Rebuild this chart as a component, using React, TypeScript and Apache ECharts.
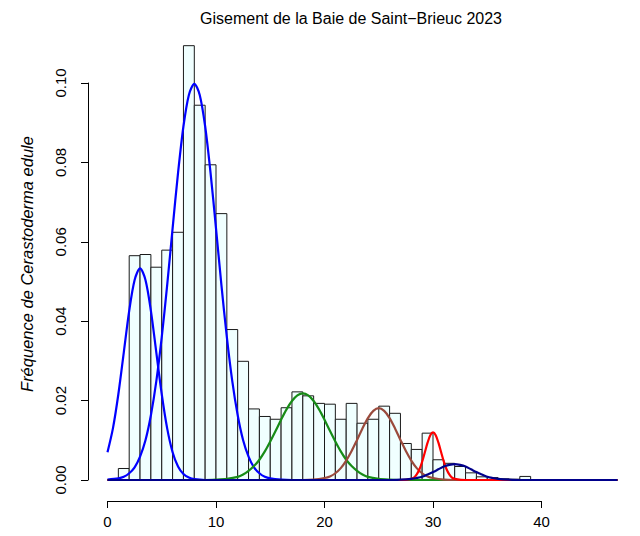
import React, { useEffect, useRef } from "react";
import * as echarts from "echarts";

// Histogram bins (width 1): left edges and densities
const binStarts = [1, 2, 3, 4, 5, 6, 7, 8, 9, 10, 11, 12, 13, 14, 15, 16, 17, 18, 19, 20, 21, 22, 23, 24, 25, 26, 27, 28, 29, 30, 31, 32, 33, 34, 35, 36, 37, 38];
const binHeights = [0.0029, 0.0565, 0.0568, 0.0536, 0.0579, 0.0624, 0.1094, 0.0944, 0.0794, 0.0671, 0.0379, 0.0299, 0.0179, 0.0160, 0.0153, 0.0182, 0.0222, 0.0212, 0.0193, 0.0191, 0.0153, 0.0193, 0.0143, 0.0153, 0.0186, 0.0168, 0.0092, 0.0077, 0.0118, 0.0051, 0.0042, 0.0034, 0.0018, 0.0008, 0.0006, 0.0003, 0.0002, 0.0009];

// Component curves: [x, density]
const curve1: number[][] = [[0, 0.0070], [0.5, 0.0130], [1, 0.0216], [1.5, 0.0321], [2, 0.0426], [2.5, 0.0504], [3, 0.0533], [3.5, 0.0504], [4, 0.0426], [4.5, 0.0321], [5, 0.0216], [5.5, 0.0130], [6, 0.0070], [6.5, 0.0034], [7, 0.0015], [7.5, 0.0006], [8, 0.0002], [9, 0], [47, 0]];
const curve2: number[][] = [[0, 0.0001], [1, 0.0004], [1.5, 0.0008], [2, 0.0017], [2.5, 0.0032], [3, 0.0059], [3.5, 0.0100], [4, 0.0163], [4.5, 0.0249], [5, 0.0360], [5.5, 0.0491], [6, 0.0634], [6.5, 0.0773], [7, 0.0891], [7.5, 0.0970], [8, 0.0998], [8.5, 0.0970], [9, 0.0891], [9.5, 0.0773], [10, 0.0634], [10.5, 0.0491], [11, 0.0360], [11.5, 0.0249], [12, 0.0163], [12.5, 0.0100], [13, 0.0059], [13.5, 0.0032], [14, 0.0017], [14.5, 0.0008], [15, 0.0004], [16, 0.0001], [17, 0], [47, 0]];
const curve3: number[][] = [[0, 0], [9, 0], [10, 0.0001], [11, 0.0003], [12, 0.0008], [12.5, 0.0014], [13, 0.0023], [13.5, 0.0035], [14, 0.0051], [14.5, 0.0072], [15, 0.0097], [15.5, 0.0124], [16, 0.0152], [16.5, 0.0178], [17, 0.0199], [17.5, 0.0213], [18, 0.0218], [18.5, 0.0213], [19, 0.0199], [19.5, 0.0178], [20, 0.0152], [20.5, 0.0124], [21, 0.0097], [21.5, 0.0072], [22, 0.0051], [22.5, 0.0035], [23, 0.0023], [23.5, 0.0014], [24, 0.0008], [25, 0.0003], [26, 0.0001], [27, 0], [47, 0]];
const curve4: number[][] = [[0, 0], [18, 0], [19, 0.0001], [20, 0.0005], [20.5, 0.0009], [21, 0.0017], [21.5, 0.0030], [22, 0.0049], [22.5, 0.0073], [23, 0.0101], [23.5, 0.0130], [24, 0.0156], [24.5, 0.0174], [25, 0.0181], [25.5, 0.0174], [26, 0.0156], [26.5, 0.0130], [27, 0.0101], [27.5, 0.0073], [28, 0.0049], [28.5, 0.0030], [29, 0.0017], [29.5, 0.0009], [30, 0.0005], [31, 0.0001], [32, 0], [47, 0]];
const curve5: number[][] = [[0, 0], [27, 0], [28, 0.0003], [28.25, 0.0006], [28.5, 0.0014], [28.75, 0.0027], [29, 0.0046], [29.25, 0.0070], [29.5, 0.0094], [29.75, 0.0113], [30, 0.0120], [30.25, 0.0113], [30.5, 0.0094], [30.75, 0.0070], [31, 0.0046], [31.25, 0.0027], [31.5, 0.0014], [31.75, 0.0006], [32, 0.0003], [33, 0], [47, 0]];
const curve6: number[][] = [[0, 0], [26, 0], [27, 0.0001], [28, 0.0003], [28.5, 0.0005], [29, 0.0008], [29.5, 0.0014], [30, 0.0020], [30.5, 0.0027], [31, 0.0034], [31.5, 0.0038], [32, 0.0040], [32.5, 0.0038], [33, 0.0034], [33.5, 0.0027], [34, 0.0020], [34.5, 0.0014], [35, 0.0008], [35.5, 0.0005], [36, 0.0003], [37, 0.0001], [38, 0], [47, 0]];

const curveColors = ["#0000FF", "#0000FF", "#178C17", "#9A4A3C", "#FF0000", "#00008B"];
const curves = [curve1, curve2, curve3, curve4, curve5, curve6];

const xTickMin = 0;
const xTickMax = 40;
const xTickStep = 10;
const yTickMin = 0;
const yTickMax = 0.1;
const yTickStep = 0.02;

const titleText = "Gisement de la Baie de Saint\u2212Brieuc 2023";
const yLabelText = "Fr\u00e9quence de Cerastoderma edule";

const FONT = "'Liberation Sans', Arial, Helvetica, sans-serif";

export default function App() {
  const ref = useRef<HTMLDivElement>(null);
  useEffect(() => {
    document.body.style.margin = "0";
    const chart = echarts.init(ref.current!, null, { renderer: "svg" });
    const histData = binStarts.map((s, i) => [s, s + 1, binHeights[i]]);
    const pxPerUnit = 10.85;
    const x0 = 107.5;
    const y0 = 480;
    const pxPerY = 3970;
    const option: any = {
      animation: false,
      backgroundColor: "#fff",
      grid: [
        { left: x0, top: y0 - 0.11 * pxPerY, width: 47 * pxPerUnit, height: 0.11 * pxPerY },
        { left: x0, top: 500, width: 40 * pxPerUnit, height: 1 },
        { left: 88, top: y0 - 0.1 * pxPerY, width: 1, height: 0.1 * pxPerY },
      ],
      xAxis: [
        { gridIndex: 0, type: "value", min: 0, max: 47, show: false },
        {
          gridIndex: 1, type: "value", min: xTickMin, max: xTickMax, interval: xTickStep, position: "bottom",
          axisLine: { show: true, lineStyle: { color: "#000", width: 1 } },
          axisTick: { show: true, length: 7, lineStyle: { color: "#000", width: 1 } },
          axisLabel: { fontSize: 15, color: "#000", margin: 13, fontFamily: FONT },
          splitLine: { show: false },
        },
        { gridIndex: 2, type: "value", min: 0, max: 1, show: false },
      ],
      yAxis: [
        { gridIndex: 0, type: "value", min: 0, max: 0.11, show: false },
        { gridIndex: 1, type: "value", min: 0, max: 1, show: false },
        {
          gridIndex: 2, type: "value", min: yTickMin, max: yTickMax, interval: yTickStep, position: "left",
          axisLine: { show: true, lineStyle: { color: "#000", width: 1 } },
          axisTick: { show: true, length: 7, lineStyle: { color: "#000", width: 1 } },
          axisLabel: {
            fontSize: 15, color: "#000", margin: 20, rotate: 90, fontFamily: FONT,
            showMinLabel: true, showMaxLabel: true,
            formatter: (v: number) => v.toFixed(2),
          },
          splitLine: { show: false },
        },
      ],
      graphic: [
        {
          type: "text", x: 351, y: 18,
          style: { text: titleText, fill: "#000", fontSize: 16, fontFamily: FONT, textAlign: "center", textVerticalAlign: "middle", align: "center", verticalAlign: "middle" },
        },
        {
          type: "text", x: 27, y: 264, rotation: Math.PI / 2,
          style: { text: yLabelText, fill: "#000", fontSize: 16.5, fontStyle: "italic", fontFamily: FONT, textAlign: "center", textVerticalAlign: "middle", align: "center", verticalAlign: "middle" },
        },
      ],
      series: [
        {
          type: "custom",
          xAxisIndex: 0, yAxisIndex: 0,
          data: histData,
          renderItem: (params: any, api: any) => {
            const a = api.coord([api.value(0), api.value(2)]);
            const b = api.coord([api.value(1), 0]);
            return {
              type: "rect",
              shape: { x: a[0], y: a[1], width: b[0] - a[0], height: b[1] - a[1] },
              style: { fill: "#F0FFFF", stroke: "#1a1a1a", lineWidth: 1 },
            };
          },
          clip: false,
          z: 1,
        },
        ...curves.map((c, i) => ({
          type: "line",
          xAxisIndex: 0, yAxisIndex: 0,
          data: c,
          showSymbol: false,
          symbol: "none",
          smooth: 0.3,
          lineStyle: { color: curveColors[i], width: 2.2 },
          z: 2 + i,
          clip: false,
        })),
      ],
    };
    chart.setOption(option);
    return () => chart.dispose();
  }, []);
  return <div ref={ref} style={{ width: 640, height: 536 }} />;
}
